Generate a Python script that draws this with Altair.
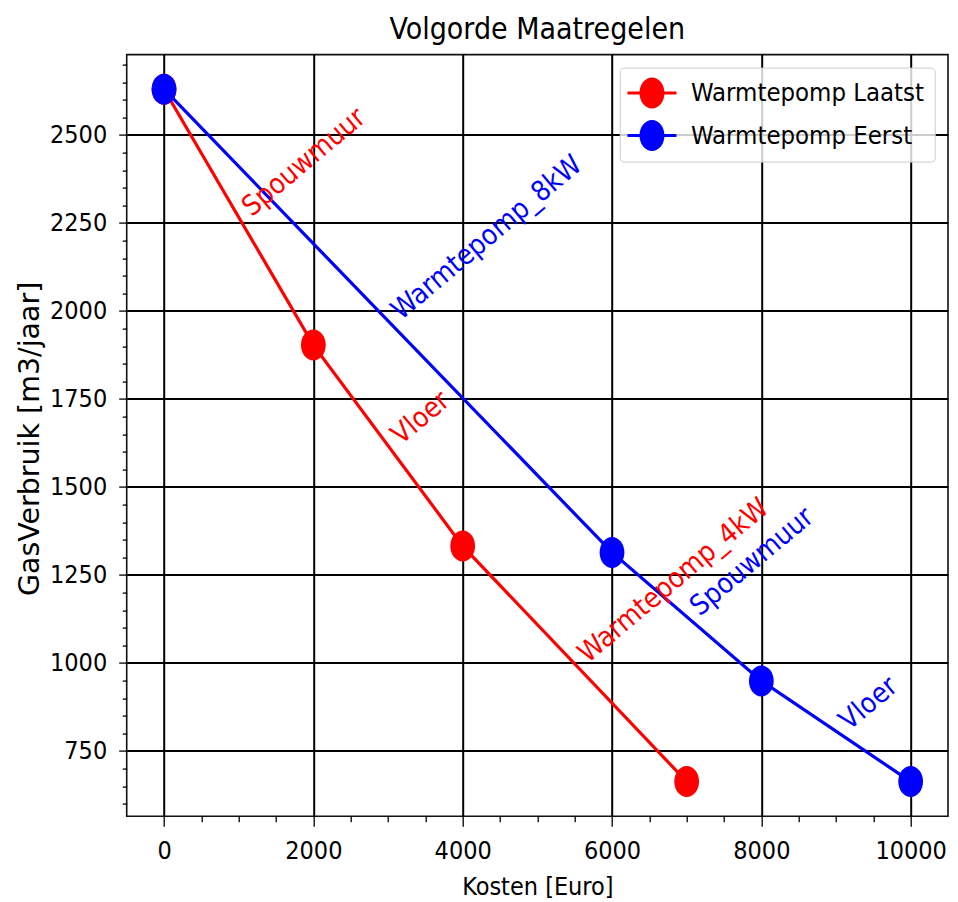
import altair as alt
import pandas as pd

# ---------------- data ----------------
series_names = ["Warmtepomp Laatst", "Warmtepomp Eerst"]
series_colors = ["#ff0000", "#0000ff"]

laatst_cost = [0, 2000, 4000, 7000]
laatst_gas = [2630, 1903, 1332, 663]
laatst_steps = ["Spouwmuur", "Vloer", "Warmtepomp_4kW"]

eerst_cost = [0, 6000, 8000, 10000]
eerst_gas = [2630, 1314, 949, 663]
eerst_steps = ["Warmtepomp_8kW", "Spouwmuur", "Vloer"]

x_ticks = list(range(0, 10001, 500))      # major every 2000
y_ticks = list(range(600, 2701, 50))      # major every 250

title_text = "Volgorde Maatregelen"
x_title = "Kosten [Euro]"
y_title = "GasVerbruik [m3/jaar]"

# ---------------- tables ----------------
rows, lab_rows = [], []
for name, kleur, cost, gas, steps in [
    (series_names[0], series_colors[0], laatst_cost, laatst_gas, laatst_steps),
    (series_names[1], series_colors[1], eerst_cost, eerst_gas, eerst_steps),
]:
    for c, g in zip(cost, gas):
        rows.append({"serie": name, "kleur": kleur, "kosten": c, "gas": g})
    for i, s in enumerate(steps):
        lab_rows.append({
            "serie": name, "kleur": kleur,
            "kosten": (cost[i] + cost[i + 1]) / 2,
            "gas": (gas[i] + gas[i + 1]) / 2,
            "stap": s,
        })
df = pd.DataFrame(rows)
df_lab = pd.DataFrame(lab_rows)

all_cost = laatst_cost + eerst_cost
all_gas = laatst_gas + eerst_gas
xm = 0.05 * (max(all_cost) - min(all_cost))
ym = 0.05 * (max(all_gas) - min(all_gas))
x_domain = [min(all_cost) - xm, max(all_cost) + xm]
y_domain = [min(all_gas) - ym, max(all_gas) + ym]

# ---------------- style ----------------
FC = "DejaVu Sans Condensed, DejaVu Sans"
FR = "DejaVu Sans"
W, H = 821.3, 761.6

marker = "M-0.8,0A0.8,1 0 1,1 0.8,0A0.8,1 0 1,1 -0.8,0Z"
legend_symbol = ("M-1.13,-0.097L2.03,-0.097L2.03,0.097L-1.13,0.097Z "
                 "M-0.354,0A0.806,1 0 1,1 1.258,0A0.806,1 0 1,1 -0.354,0Z")

x_axis = alt.Axis(
    values=x_ticks, format="d",
    labelExpr="datum.value % 2000 === 0 ? datum.label : ''",
    tickSize={"condition": {"test": "datum.value % 2000 === 0", "value": 10}, "value": 5.5},
    gridOpacity={"condition": {"test": "datum.value % 2000 === 0", "value": 1}, "value": 0},
    grid=True, gridColor="#000000", gridWidth=2,
    tickColor="#000000", tickWidth=1.3, domain=False,
    labelFont=FC, labelFontSize=25, labelColor="#000000",
    labelBaseline="alphabetic", labelPadding=32, labelFlush=False, labelOverlap=False,
    title=x_title, titleFont=FC, titleFontSize=25, titleFontWeight="normal",
    titleColor="#000000", titleBaseline="alphabetic", titleX=W / 2, titleY=78,
)
y_axis = alt.Axis(
    values=y_ticks, format="d",
    labelExpr="datum.value % 250 === 0 ? datum.label : ''",
    tickSize={"condition": {"test": "datum.value % 250 === 0", "value": 8}, "value": 4.5},
    gridOpacity={"condition": {"test": "datum.value % 250 === 0", "value": 1}, "value": 0},
    grid=True, gridColor="#000000", gridWidth=2,
    tickColor="#000000", tickWidth=1.3, domain=False,
    labelFont=FC, labelFontSize=25, labelColor="#000000",
    labelPadding=12, labelOverlap=False, labelFlush=False,
    title=y_title, titleFont=FR, titleFontSize=28.5, titleFontWeight="normal",
    titleColor="#000000", titleAngle=270, titleBaseline="alphabetic",
    titleX=-88.4, titleY=H / 2 + 3,
)

base = alt.Chart().encode(
    x=alt.X("kosten:Q", scale=alt.Scale(domain=x_domain, nice=False, zero=False), axis=x_axis),
    y=alt.Y("gas:Q", scale=alt.Scale(domain=y_domain, nice=False, zero=False), axis=y_axis),
)

lines = base.mark_line(strokeWidth=3.2).encode(
    color=alt.Color("kleur:N", scale=None),
    detail="serie:N",
).properties(data=df)

points = base.mark_point(filled=True, shape=marker, size=961, opacity=1, strokeWidth=0).encode(
    fill=alt.Fill(
        "serie:N", scale=alt.Scale(domain=series_names, range=series_colors),
        legend=alt.Legend(
            title=None, orient="top-right", offset=13.4,
            symbolType=legend_symbol, symbolSize=961, symbolStrokeWidth=0, symbolOpacity=1,
            labelFont=FC, labelFontSize=25.5, labelColor="#000000", labelOffset=30.5,
            labelLimit=500,
            padding=9.8, rowPadding=11.7,
            fillColor="rgba(255,255,255,0.8)", strokeColor="#cccccc", cornerRadius=4,
        ),
    ),
).properties(data=df)

texts = base.mark_text(
    angle=320, align="left", baseline="alphabetic", dx=10, dy=8.4,
    font=FC, fontSize=28,
).encode(
    text="stap:N",
    color=alt.Color("kleur:N", scale=None),
).properties(data=df_lab)

chart = alt.layer(lines, points, texts).properties(
    width=W, height=H,
    title=alt.TitleParams(title_text, font=FC, fontSize=30, fontWeight="normal",
                          color="#000000", anchor="middle", baseline="alphabetic",
                          offset=16.3, dy=32.5),
    autosize=alt.AutoSizeParams(type="none"),
    padding={"left": 118.7, "top": 46.6, "right": 2, "bottom": 84},
).configure_view(stroke="#111111", strokeWidth=1.6)

chart.save("out.html", embed_options={"renderer": "svg", "actions": False})
